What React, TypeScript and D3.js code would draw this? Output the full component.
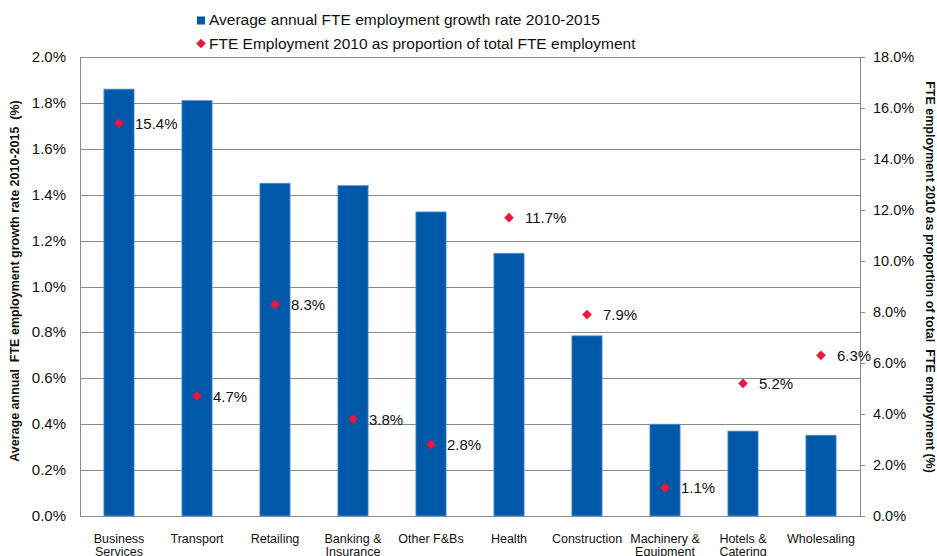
import React from "react";
import * as d3 from "d3";

const categories = [
  ["Business", "Services"],
  ["Transport"],
  ["Retailing"],
  ["Banking &", "Insurance"],
  ["Other F&Bs"],
  ["Health"],
  ["Construction"],
  ["Machinery &", "Equipment"],
  ["Hotels &", "Catering"],
  ["Wholesaling"],
];
const growthRate = [1.86, 1.81, 1.45, 1.44, 1.325, 1.145, 0.785, 0.4, 0.37, 0.352];
const employmentShare = [15.4, 4.7, 8.3, 3.8, 2.8, 11.7, 7.9, 1.1, 5.2, 6.3];
const leftTicks = [0, 0.2, 0.4, 0.6, 0.8, 1.0, 1.2, 1.4, 1.6, 1.8, 2.0];
const rightTicks = [0, 2, 4, 6, 8, 10, 12, 14, 16, 18];
const legendLabels = [
  "Average annual FTE employment growth rate 2010-2015",
  "FTE Employment 2010 as proportion of total FTE employment",
];
const leftTitle = "Average annual  FTE employment growth rate 2010-2015  (%)";
const rightTitle = "FTE employment 2010 as proportion of total  FTE employment (%)";

const W = 937;
const H = 556;
const M = { left: 80, right: 860, top: 57, bottom: 516 };
const FONT = "'Liberation Sans', Arial, sans-serif";
const BAR = "#0058A8";
const BAR_EDGE = "#5B9BD5";
const RED = "#F0163A";
const GRID = "#8A8A8A";

export default function App() {
  const x = d3
    .scaleBand<number>()
    .domain(d3.range(categories.length))
    .range([M.left, M.right])
    .paddingInner(0.6)
    .paddingOuter(0.3);
  const yL = d3.scaleLinear().domain([0, 2]).range([M.bottom, M.top]);
  const yR = d3.scaleLinear().domain([0, 18]).range([M.bottom, M.top]);
  const diamond = d3.symbol().type(d3.symbolDiamond2).size(60)();
  const cx = (i: number) => (x(i) as number) + x.bandwidth() / 2;

  return (
    <svg
      width={W}
      height={H}
      style={{ position: "absolute", left: 0, top: 0, fontFamily: FONT }}
    >
      <rect x={0} y={0} width={W} height={H} fill="#fff" />
      {leftTicks.map((t) => (
        <line
          key={"g" + t}
          x1={M.left}
          x2={M.right}
          y1={Math.round(yL(t)) + 0.5}
          y2={Math.round(yL(t)) + 0.5}
          stroke={GRID}
          strokeWidth={1}
        />
      ))}
      <line x1={M.left + 0.5} x2={M.left + 0.5} y1={M.top} y2={M.bottom + 0.5} stroke={GRID} />
      <line x1={M.right + 0.5} x2={M.right + 0.5} y1={M.top} y2={M.bottom + 0.5} stroke={GRID} />
      {rightTicks.map((t) => (
        <line
          key={"rt" + t}
          x1={M.right}
          x2={M.right + 5}
          y1={Math.round(yR(t)) + 0.5}
          y2={Math.round(yR(t)) + 0.5}
          stroke={GRID}
        />
      ))}
      {growthRate.map((v, i) => (
        <rect
          key={"b" + i}
          x={(x(i) as number) + 0.5}
          y={yL(v)}
          width={x.bandwidth() - 1}
          height={yL(0) - yL(v)}
          fill={BAR}
          stroke={BAR_EDGE}
          strokeWidth={0.8}
        />
      ))}
      {employmentShare.map((v, i) => (
        <g key={"d" + i}>
          <path d={diamond as string} transform={`translate(${cx(i)},${yR(v)})`} fill={RED} />
          <text x={cx(i) + 16} y={yR(v) + 5.5} fontSize={15} fill="#111">
            {v.toFixed(1) + "%"}
          </text>
        </g>
      ))}
      {leftTicks.map((t) => (
        <text key={"lt" + t} x={66} y={yL(t) + 5} fontSize={15} textAnchor="end" fill="#111">
          {t.toFixed(1) + "%"}
        </text>
      ))}
      {rightTicks.map((t) => (
        <text key={"rl" + t} x={873} y={yR(t) + 5} fontSize={14.5} fill="#111">
          {t.toFixed(1) + "%"}
        </text>
      ))}
      {categories.map((lines, i) => (
        <text key={"c" + i} x={cx(i)} y={543} fontSize={12.5} textAnchor="middle" fill="#111">
          {lines.map((l, j) => (
            <tspan key={j} x={cx(i)} dy={j === 0 ? 0 : 13}>
              {l}
            </tspan>
          ))}
        </text>
      ))}
      <text
        transform={`translate(19,${281}) rotate(-90)`}
        textAnchor="middle"
        fontSize={12.5}
        fontWeight="bold"
        fill="#111"
        style={{ whiteSpace: "pre" }}
      >
        {leftTitle}
      </text>
      <text
        transform={`translate(926,${277}) rotate(90)`}
        textAnchor="middle"
        fontSize={12.5}
        fontWeight="bold"
        fill="#111"
        style={{ whiteSpace: "pre" }}
      >
        {rightTitle}
      </text>
      <rect x={197} y={16.5} width={8} height={8} fill={BAR} />
      <text x={209} y={25} fontSize={15.5} fill="#111">
        {legendLabels[0]}
      </text>
      <path d={diamond as string} transform="translate(201,43.5)" fill={RED} />
      <text x={209} y={49} fontSize={15.5} fill="#111">
        {legendLabels[1]}
      </text>
    </svg>
  );
}
